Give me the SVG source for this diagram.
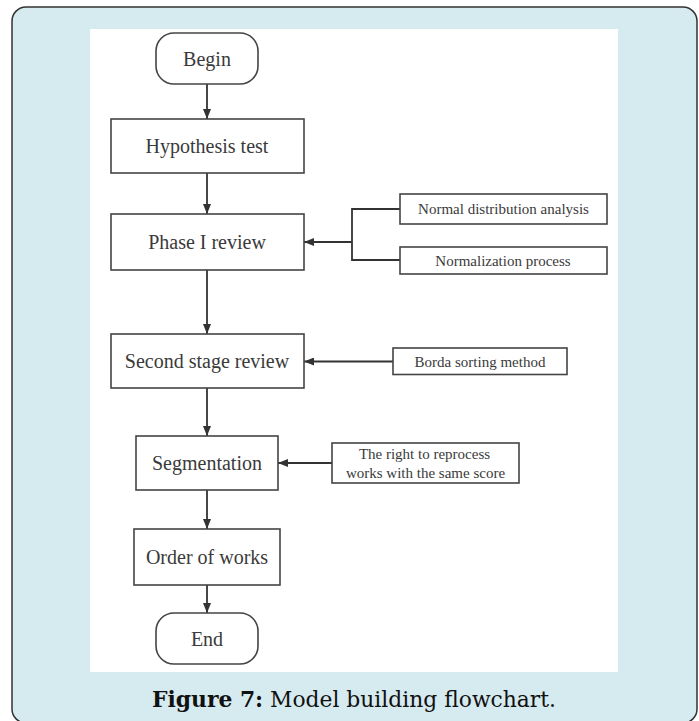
<svg xmlns="http://www.w3.org/2000/svg" width="699" height="721" viewBox="0 0 699 721">
  <style>
    .box { fill: #ffffff; stroke: #444444; stroke-width: 1.6; }
    .main { font-family: "Liberation Serif", "Times New Roman", serif; font-size: 20px; fill: #3a3a3a; text-anchor: middle; }
    .side { font-family: "Liberation Serif", "Times New Roman", serif; font-size: 15px; fill: #3a3a3a; text-anchor: middle; }
    .conn { fill: none; stroke: #333333; stroke-width: 1.8; }
    .cap { font-family: "DejaVu Serif", "Liberation Serif", serif; font-size: 22px; fill: #111111; text-anchor: middle; }
  </style>
  <defs>
    <marker id="arrow" viewBox="0 0 10 8" refX="10" refY="4" markerWidth="10" markerHeight="8" markerUnits="userSpaceOnUse" orient="auto">
      <path d="M0,0 L10,4 L0,8 z" fill="#333333"/>
    </marker>
  </defs>

  <rect x="12" y="7" width="685" height="716" rx="14" ry="14" fill="#d6ebf0" stroke="#333333" stroke-width="1.5"/>
  <rect x="90" y="29" width="528" height="643" fill="#ffffff"/>

  <g id="connectors">
    <line class="conn" x1="207" y1="84" x2="207" y2="119" marker-end="url(#arrow)"/>
    <line class="conn" x1="207" y1="173" x2="207" y2="214" marker-end="url(#arrow)"/>
    <line class="conn" x1="207" y1="270" x2="207" y2="334" marker-end="url(#arrow)"/>
    <line class="conn" x1="207" y1="388" x2="207" y2="436" marker-end="url(#arrow)"/>
    <line class="conn" x1="207" y1="490" x2="207" y2="529" marker-end="url(#arrow)"/>
    <line class="conn" x1="207" y1="585" x2="207" y2="613" marker-end="url(#arrow)"/>
    <polyline class="conn" points="400,209 352,209 352,260 400,260"/>
    <line class="conn" x1="352" y1="242" x2="304" y2="242" marker-end="url(#arrow)"/>
    <line class="conn" x1="393" y1="361.5" x2="304" y2="361.5" marker-end="url(#arrow)"/>
    <line class="conn" x1="332" y1="463" x2="278" y2="463" marker-end="url(#arrow)"/>
  </g>

  <g id="begin">
    <rect class="box" x="156" y="33" width="102" height="51" rx="18" ry="18"/>
    <text class="main" x="207" y="66">Begin</text>
  </g>
  <g id="hypothesis">
    <rect class="box" x="111" y="119" width="193" height="54"/>
    <text class="main" x="207" y="153">Hypothesis test</text>
  </g>
  <g id="phase1">
    <rect class="box" x="111" y="214" width="193" height="56"/>
    <text class="main" x="207" y="249">Phase I review</text>
  </g>
  <g id="normal">
    <rect class="box" x="400" y="194" width="207" height="30"/>
    <text class="side" x="503.5" y="214">Normal distribution analysis</text>
  </g>
  <g id="normalization">
    <rect class="box" x="400" y="247" width="207" height="27"/>
    <text class="side" x="503" y="265.5">Normalization process</text>
  </g>
  <g id="second">
    <rect class="box" x="111" y="334" width="193" height="54"/>
    <text class="main" x="207" y="368">Second stage review</text>
  </g>
  <g id="borda">
    <rect class="box" x="393" y="348" width="174" height="26.5"/>
    <text class="side" x="480" y="366.5">Borda sorting method</text>
  </g>
  <g id="segmentation">
    <rect class="box" x="136" y="436" width="142" height="54"/>
    <text class="main" x="207" y="470">Segmentation</text>
  </g>
  <g id="reprocess">
    <rect class="box" x="332" y="443" width="187" height="40"/>
    <text class="side" x="424.5" y="459">The right to reprocess</text>
    <text class="side" x="425.5" y="478">works with the same score</text>
  </g>
  <g id="order">
    <rect class="box" x="134" y="529" width="146" height="56"/>
    <text class="main" x="207" y="564">Order of works</text>
  </g>
  <g id="end">
    <rect class="box" x="156" y="613" width="102" height="51" rx="18" ry="18"/>
    <text class="main" x="207" y="645.5">End</text>
  </g>

  <text class="cap" x="354" y="707" textLength="404" lengthAdjust="spacingAndGlyphs"><tspan font-weight="bold">Figure 7:</tspan> Model building flowchart.</text>
</svg>
